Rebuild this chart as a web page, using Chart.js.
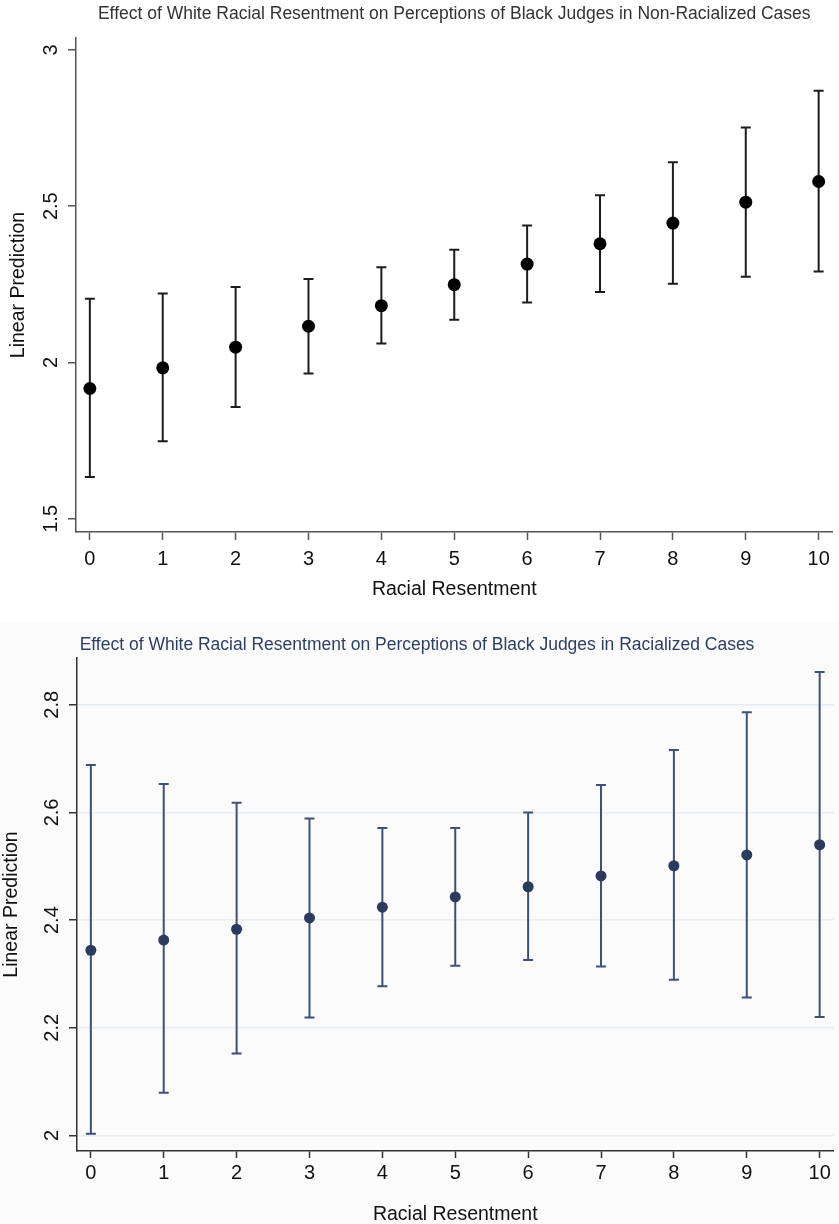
<!DOCTYPE html>
<html>
<head>
<meta charset="utf-8">
<script src="https://cdn.jsdelivr.net/npm/chart.js@4/dist/chart.umd.min.js"></script>
<style>
body { margin: 0; background: #fff; }
#wrap { position: relative; width: 839px; height: 1224px; }
#top-chart { position: absolute; left: 0; top: 0; }
#bottom-chart { position: absolute; left: 0; top: 622px; background: #fbfbfc; }
</style>
</head>
<body>
<div id="wrap">
  <canvas id="top-chart" width="839" height="622"></canvas>
  <canvas id="bottom-chart" width="839" height="602"></canvas>
</div>
<script>
// racial resentment scale
const resentment = [0, 1, 2, 3, 4, 5, 6, 7, 8, 9, 10];

// non-racialized cases
const nonRacialEst   = [1.917, 1.983, 2.049, 2.116, 2.182, 2.249, 2.315, 2.380, 2.446, 2.513, 2.579];
const nonRacialUpper = [2.204, 2.221, 2.242, 2.267, 2.305, 2.361, 2.438, 2.535, 2.641, 2.752, 2.869];
const nonRacialLower = [1.634, 1.748, 1.858, 1.965, 2.061, 2.137, 2.192, 2.226, 2.252, 2.274, 2.291];
const nonRacialTicks = [1.5, 2, 2.5, 3];

// racialized cases
const racialEst   = [2.344, 2.363, 2.383, 2.404, 2.424, 2.443, 2.462, 2.482, 2.501, 2.521, 2.540];
const racialUpper = [2.688, 2.653, 2.618, 2.589, 2.571, 2.571, 2.600, 2.651, 2.716, 2.786, 2.861];
const racialLower = [2.003, 2.079, 2.152, 2.219, 2.277, 2.315, 2.326, 2.314, 2.289, 2.256, 2.220];
const racialTicks = [2, 2.2, 2.4, 2.6, 2.8];

Chart.defaults.font.family = "'Liberation Sans', Arial, sans-serif";

// draws the confidence intervals through the chart's own scales
const errorBars = {
    id: 'errorBars',
    beforeDatasetsDraw(chart, args, opts) {
        const { ctx, scales: { x, y } } = chart;
        ctx.save();
        ctx.strokeStyle = opts.color;
        ctx.lineWidth = opts.width;
        opts.lower.forEach((lo, i) => {
            const px = x.getPixelForValue(opts.xs[i]);
            const y1 = y.getPixelForValue(lo);
            const y2 = y.getPixelForValue(opts.upper[i]);
            ctx.beginPath();
            ctx.moveTo(px, y1); ctx.lineTo(px, y2);
            ctx.moveTo(px - opts.cap, y1); ctx.lineTo(px + opts.cap, y1);
            ctx.moveTo(px - opts.cap, y2); ctx.lineTo(px + opts.cap, y2);
            ctx.stroke();
        });
        ctx.restore();
    }
};

function makeChart(id, s) {
    const ctx = document.getElementById(id).getContext('2d');
    return new Chart(ctx, {
        type: 'scatter',
        data: {
            datasets: [{
                data: resentment.map((v, i) => ({ x: v, y: s.est[i] })),
                pointRadius: s.radius,
                pointHoverRadius: s.radius,
                pointBackgroundColor: s.pointColor,
                pointBorderWidth: 0,
                showLine: false
            }]
        },
        options: {
            responsive: false,
            animation: false,
            devicePixelRatio: 1,
            layout: { padding: { left: 0, right: 5, top: 0, bottom: 0 } },
            plugins: {
                legend: { display: false },
                tooltip: { enabled: false },
                title: {
                    display: true,
                    text: s.title,
                    color: s.titleColor,
                    fullSize: s.titleFull,
                    font: { size: 17.5, weight: 'normal' },
                    padding: s.titlePad
                },
                errorBars: {
                    xs: resentment, lower: s.lower, upper: s.upper,
                    color: s.barColor, width: 2, cap: 5
                }
            },
            scales: {
                x: {
                    type: 'linear',
                    min: -0.19,
                    max: 10.19,
                    afterBuildTicks: scale => { scale.ticks = resentment.map(v => ({ value: v })); },
                    afterFit: scale => { scale.height = s.xHeight; },
                    ticks: { callback: v => String(v), color: '#111', font: { size: 20 }, padding: s.xPad, maxRotation: 0 },
                    grid: { drawOnChartArea: false, tickLength: s.tickLen, tickColor: s.axisColor, tickWidth: 1.5 },
                    border: { color: s.axisColor, width: 1.5 },
                    title: {
                        display: true, text: 'Racial Resentment', color: '#111',
                        font: { size: 19.5, lineHeight: s.xTitleLH },
                        padding: { top: 0, bottom: s.xTitlePad }
                    }
                },
                y: {
                    min: s.yMin,
                    max: s.yMax,
                    afterBuildTicks: scale => { scale.ticks = s.yTicks.map(v => ({ value: v })); },
                    afterFit: scale => { scale.width = s.yWidth; },
                    ticks: {
                        callback: v => String(v), color: '#111', font: { size: 20 },
                        minRotation: 90, maxRotation: 90, crossAlign: 'center', padding: 3
                    },
                    grid: {
                        drawOnChartArea: s.grid, color: '#e6ecf0', lineWidth: 1.5,
                        tickLength: 8, tickColor: s.axisColor, tickWidth: 1.5
                    },
                    border: { color: s.axisColor, width: 1.5 },
                    title: {
                        display: true, text: 'Linear Prediction', color: '#111',
                        font: { size: 19.5 },
                        padding: { top: s.yTitlePad, bottom: 0 }
                    }
                }
            }
        },
        plugins: [errorBars]
    });
}

makeChart('top-chart', {
    title: 'Effect of White Racial Resentment on Perceptions of Black Judges in Non-Racialized Cases',
    titleColor: '#333', titleFull: false, titlePad: { top: 3.5, bottom: 13.5 },
    est: nonRacialEst, lower: nonRacialLower, upper: nonRacialUpper,
    yTicks: nonRacialTicks, yMin: 1.458, yMax: 3.038,
    radius: 6.5, pointColor: '#000', barColor: '#1c1c1c', axisColor: '#555',
    grid: false, yWidth: 76, xHeight: 90, tickLen: 8, xPad: 7,
    xTitleLH: 1.2, xTitlePad: 20.3, yTitlePad: 7
});

makeChart('bottom-chart', {
    title: 'Effect of White Racial Resentment on Perceptions of Black Judges in Racialized Cases',
    titleColor: '#2e3e62', titleFull: true, titlePad: { top: 12.5, bottom: 2.5 },
    est: racialEst, lower: racialLower, upper: racialUpper,
    yTicks: racialTicks, yMin: 1.971, yMax: 2.887,
    radius: 5.5, pointColor: '#2b3b5e', barColor: '#3d5076', axisColor: '#333',
    grid: true, yWidth: 77, xHeight: 73, tickLen: 7, xPad: 3,
    xTitleLH: 1.0, xTitlePad: 0, yTitlePad: 0
});
</script>
</body>
</html>
